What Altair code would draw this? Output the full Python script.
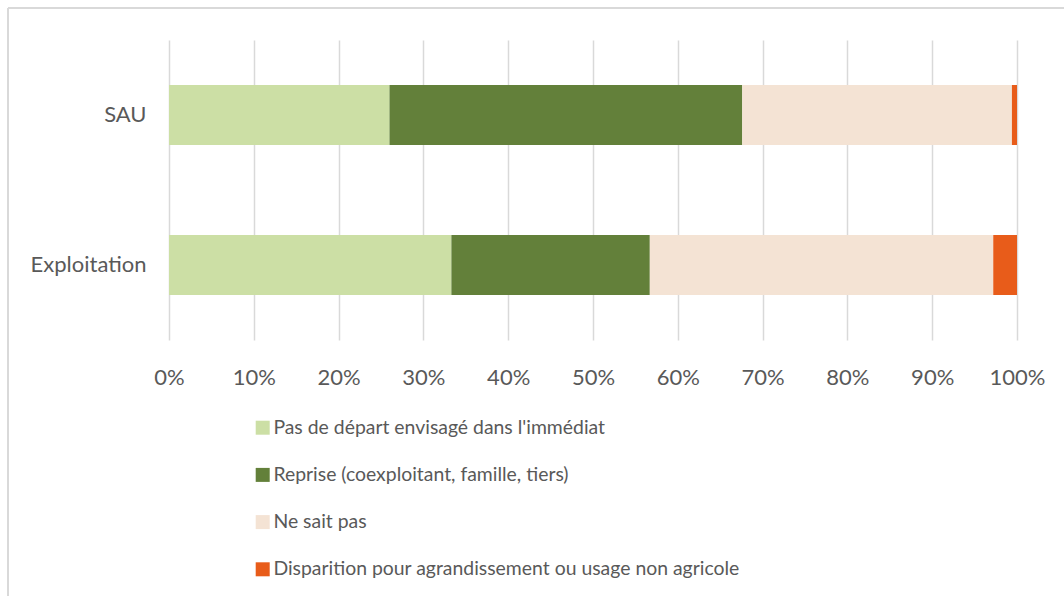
import altair as alt
import pandas as pd

# Répartition du devenir des exploitations (en %)
categories = ["SAU", "Exploitation"]
series = [
    "Pas de départ envisagé dans l'immédiat",
    "Reprise (coexploitant, famille, tiers)",
    "Ne sait pas",
    "Disparition pour agrandissement ou usage non agricole",
]
sau_values = [26.0, 41.6, 31.8, 0.6]
exploitation_values = [33.3, 23.4, 40.5, 2.8]
colors = ["#CCDFA5", "#63803A", "#F4E3D4", "#E85C1A"]
x_ticks = [0, 10, 20, 30, 40, 50, 60, 70, 80, 90, 100]

rows = []
for cat, vals in zip(categories, [sau_values, exploitation_values]):
    for i, (s, v) in enumerate(zip(series, vals)):
        rows.append({"categorie": cat, "modalite": s, "ordre": i, "valeur": v})
df = pd.DataFrame(rows)

FONT = "Lato"
TXT = "#595959"

bars = (
    alt.Chart(df)
    .mark_bar(stroke=None)
    .encode(
        x=alt.X(
            "valeur:Q",
            stack="zero",
            scale=alt.Scale(domain=[0, 100], nice=False),
            axis=alt.Axis(
                values=x_ticks,
                labelExpr="datum.value + '%'",
                title=None,
                domain=False,
                ticks=False,
                grid=True,
                gridColor="#D9D9D9",
                gridWidth=1.5,
                labelFlush=False,
                labelOverlap=False,
                labelPadding=27,
                labelFontSize=22,
                labelColor=TXT,
                labelFont=FONT,
            ),
        ),
        y=alt.Y(
            "categorie:N",
            sort=categories,
            scale=alt.Scale(paddingInner=0.6, paddingOuter=0.3),
            axis=alt.Axis(
                title=None,
                domain=False,
                ticks=False,
                grid=False,
                labelPadding=23,
                labelFontSize=22,
                labelColor=TXT,
                labelFont=FONT,
            ),
        ),
        color=alt.Color(
            "modalite:N",
            scale=alt.Scale(domain=series, range=colors),
            legend=alt.Legend(
                title=None,
                orient="none",
                legendX=84,
                legendY=378,
                direction="vertical",
                symbolType="square",
                symbolSize=196,
                symbolStrokeWidth=0,
                rowPadding=26.2,
                labelOffset=1,
                labelFontSize=19.4,
                labelColor=TXT,
                labelFont=FONT,
                labelLimit=800,
            ),
        ),
        order=alt.Order("ordre:Q"),
    )
)

# Cadre gris (haut et gauche)
frame_data = alt.Data(values=[{"k": 0}])
top_line = alt.Chart(frame_data).mark_rule(color="#D9D9D9", strokeWidth=2).encode(
    x=alt.value(-161), x2=alt.value(895), y=alt.value(-32)
)
left_line = alt.Chart(frame_data).mark_rule(color="#D9D9D9", strokeWidth=2).encode(
    x=alt.value(-161), y=alt.value(-32), y2=alt.value(556)
)

chart = (
    alt.layer(bars, top_line, left_line)
    .properties(
        width=848,
        height=300,
        autosize=alt.AutoSizeParams(type="none"),
        padding={"left": 169, "top": 40, "right": 47, "bottom": 256},
        background="white",
    )
    .configure_view(stroke=None)
)

chart.save("out.html", embed_options={"renderer": "svg", "actions": False})
